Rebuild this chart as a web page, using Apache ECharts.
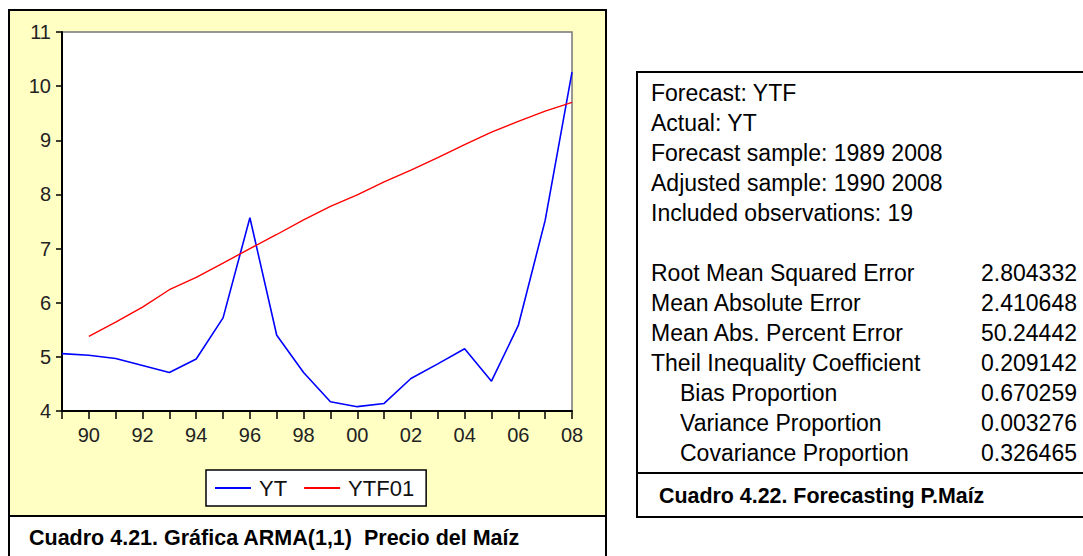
<!DOCTYPE html>
<html>
<head>
<meta charset="utf-8">
<script src="https://cdn.jsdelivr.net/npm/echarts@6/dist/echarts.min.js"></script>
<style>
html,body{margin:0;padding:0;background:#fff;}
#chart{width:1083px;height:556px;}
</style>
</head>
<body>
<div id="chart"></div>
<script>
// ---- data ----
const years = [1989,1990,1991,1992,1993,1994,1995,1996,1997,1998,1999,2000,2001,2002,2003,2004,2005,2006,2007,2008];
const ytValues = [5.06,5.03,4.97,4.84,4.71,4.96,5.72,7.57,5.40,4.71,4.17,4.08,4.14,4.60,4.87,5.15,4.55,5.58,7.52,10.26];
const ytfYears = [1990,1991,1992,1993,1994,1995,1996,1997,1998,1999,2000,2001,2002,2003,2004,2005,2006,2007,2008];
const ytfValues = [5.38,5.64,5.92,6.24,6.47,6.73,7.00,7.26,7.53,7.78,7.99,8.23,8.45,8.68,8.92,9.15,9.35,9.54,9.70];
const seriesNames = ['YT','YTF01'];
const yTicks = [4,5,6,7,8,9,10,11];
const headerLines = ['Forecast: YTF','Actual: YT','Forecast sample: 1989 2008','Adjusted sample: 1990 2008','Included observations: 19'];
const statLabels = ['Root Mean Squared Error','Mean Absolute Error','Mean Abs. Percent Error','Theil Inequality Coefficient','Bias Proportion','Variance Proportion','Covariance Proportion'];
const statValues = ['2.804332','2.410648','50.24442','0.209142','0.670259','0.003276','0.326465'];
const statIndent = [0,0,0,0,1,1,1];
const captionLeft = 'Cuadro 4.21. Gráfica ARMA(1,1)  Precio del Maíz';
const captionRight = 'Cuadro 4.22. Forecasting P.Maíz';

const FONT = '"Liberation Sans", Arial, sans-serif';

const graphics = [
  // left panel background
  {type:'rect', z:-10, shape:{x:9,y:10,width:597,height:570}, style:{fill:'#FFFFC4', stroke:'#000', lineWidth:2}},
  {type:'rect', z:-9, shape:{x:9,y:516,width:597,height:60}, style:{fill:'#fff', stroke:'#000', lineWidth:2}},
  {type:'text', z:10, x:29, y:538, style:{text:captionLeft, font:'bold 21.5px '+FONT, fill:'#000', verticalAlign:'middle'}},
  // right panel
  {type:'rect', z:-10, shape:{x:637,y:72,width:470,height:445}, style:{fill:'#fff', stroke:'#000', lineWidth:2}},
  {type:'line', z:-9, shape:{x1:637,y1:473,x2:1090,y2:473}, style:{stroke:'#000', lineWidth:2}},
  {type:'text', z:10, x:659, y:496, style:{text:captionRight, font:'bold 21.4px '+FONT, fill:'#000', verticalAlign:'middle'}}
];
headerLines.forEach((t,i)=>{
  graphics.push({type:'text', z:10, x:651, y:93+i*30, style:{text:t, font:'23px '+FONT, fill:'#000', verticalAlign:'middle'}});
});
statLabels.forEach((t,i)=>{
  const y = 273 + i*30;
  graphics.push({type:'text', z:10, x: statIndent[i] ? 680 : 651, y:y, style:{text:t, font:'23px '+FONT, fill:'#000', verticalAlign:'middle'}});
  graphics.push({type:'text', z:10, x:1077, y:y, style:{text:statValues[i], font:'23px '+FONT, fill:'#000', align:'right', verticalAlign:'middle'}});
});

const chart = echarts.init(document.getElementById('chart'), null, {renderer:'svg'});
chart.setOption({
  animation:false,
  backgroundColor:'transparent',
  graphic: graphics,
  grid:{left:62, top:32, width:510, height:379, show:true, backgroundColor:'#fff', borderColor:'#777', borderWidth:1.5},
  legend:{
    data: seriesNames,
    left:206, top:470,
    orient:'horizontal',
    backgroundColor:'#fff', borderColor:'#000', borderWidth:1.5,
    padding:[7,12,7,9],
    itemWidth:36, itemHeight:2, itemGap:17,
    icon:'rect',
    textStyle:{fontSize:22, fontFamily:FONT, color:'#111', padding:[0,0,0,3]}
  },
  xAxis:{
    type:'value', min:1989, max:2008, interval:1,
    axisLine:{show:true, lineStyle:{color:'#000', width:2}},
    axisTick:{show:true, length:8, inside:false, lineStyle:{color:'#000', width:1.5}},
    axisLabel:{margin:14, fontSize:20, fontFamily:FONT, color:'#222',
      formatter:v => (v % 2 === 0) ? String(v).slice(2) : ''},
    splitLine:{show:false}
  },
  yAxis:{
    type:'value', min:yTicks[0], max:yTicks[yTicks.length-1], interval:1,
    axisLine:{show:true, lineStyle:{color:'#000', width:2}},
    axisTick:{show:true, length:6, lineStyle:{color:'#000', width:1.5}},
    axisLabel:{margin:11, fontSize:20, fontFamily:FONT, color:'#222'},
    splitLine:{show:false}
  },
  series:[
    {name:seriesNames[0], type:'line', symbol:'none', color:'#0000FF',
     lineStyle:{color:'#0000FF', width:1.6},
     data: years.map((y,i)=>[y, ytValues[i]])},
    {name:seriesNames[1], type:'line', symbol:'none', color:'#FF0000',
     lineStyle:{color:'#FF0000', width:1.4},
     data: ytfYears.map((y,i)=>[y, ytfValues[i]])}
  ]
});
</script>
</body>
</html>
